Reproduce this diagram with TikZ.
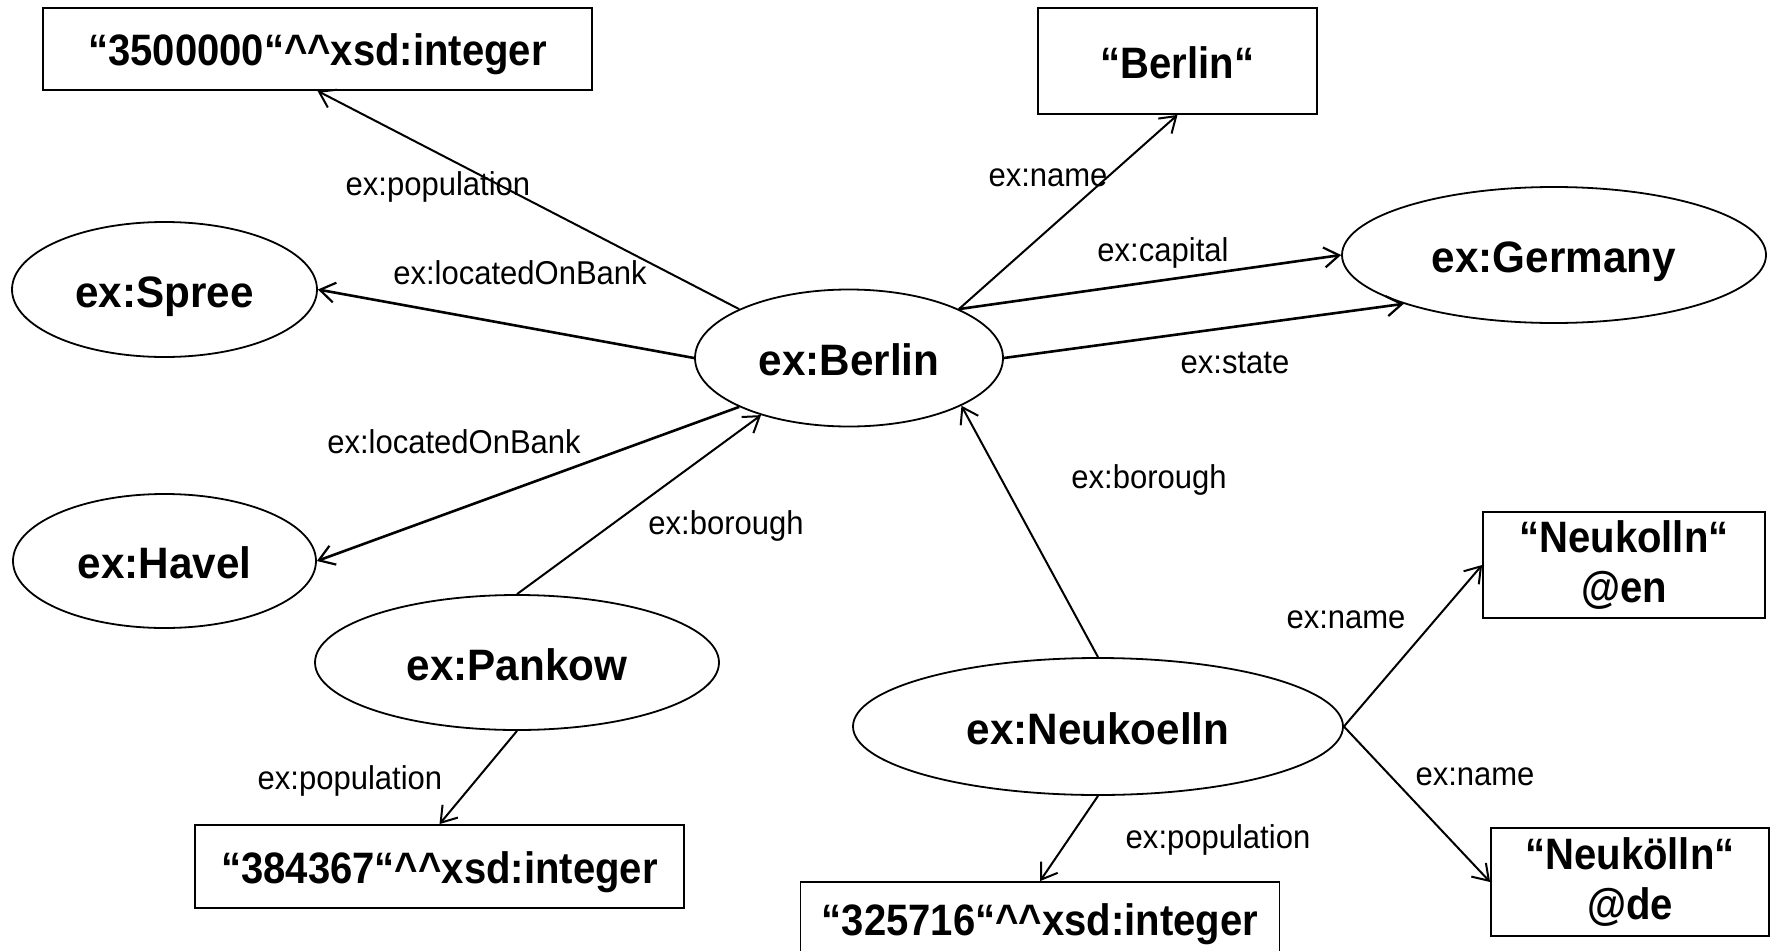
\documentclass[tikz,border=0pt]{standalone}
\usepackage{fontspec}
\setmainfont{Liberation Sans}[FakeStretch=0.91]
\newfontfamily\resfont{Liberation Sans}[FakeStretch=0.96]
\newfontfamily\lblfont{Liberation Sans}[FakeStretch=0.94]
\usetikzlibrary{shapes.geometric,arrows.meta}
\begin{document}
\begin{tikzpicture}[x=1pt,y=-1pt,
  res/.style={ellipse,draw,line width=1.8pt,inner sep=0pt,text height=35pt,text depth=0pt,font=\resfont\fontsize{44}{47}\selectfont\bfseries},
  lit/.style={rectangle,draw,line width=1.8pt,inner sep=0pt,align=center,font=\fontsize{44}{50}\selectfont\bfseries},
  litone/.style={lit,text height=34pt,text depth=0pt},
  lbl/.style={font=\lblfont\fontsize{33}{38}\selectfont,inner sep=0pt},
  rel/.style={line width=2pt,-{Straight Barb[length=15pt,width=20pt,line width=2pt]}},
  relT/.style={line width=2.6pt,-{Straight Barb[length=15pt,width=20pt,line width=2.2pt]}},
  ]
\clip (0,0) rectangle (1771,950);
\fill[white] (0,0) rectangle (1771,950);

% literal boxes
\node[litone,minimum width=549pt,minimum height=82pt] (pop) at (317.5,49) {“3500000“\textasciicircum\textasciicircum xsd:integer};
\node[litone,minimum width=279pt,minimum height=106pt] (bname) at (1177.5,61) {“Berlin“};
\node[litone,minimum width=489pt,minimum height=83pt] (b384) at (439.5,866.5) {“384367“\textasciicircum\textasciicircum xsd:integer};
\node[litone,minimum width=479pt,minimum height=73pt] (b325) at (1040,918.5) {“325716“\textasciicircum\textasciicircum xsd:integer};
\node[lit,minimum width=282pt,minimum height=106pt] (en) at (1624,565) {“Neukolln“\\@en};
\node[lit,minimum width=278pt,minimum height=108pt] (de) at (1630,882) {“Neukölln“\\@de};

% resources
\node[res,minimum width=305pt,minimum height=135pt] (spree) at (164.5,289.5) {ex:Spree};
\node[res,minimum width=308pt,minimum height=137pt] (berlin) at (849,358) {ex:Berlin};
\node[res,minimum width=424pt,minimum height=136pt] (germany) at (1554,255) {ex:Germany};
\node[res,minimum width=303pt,minimum height=134pt] (havel) at (164.5,561) {ex:Havel};
\node[res,minimum width=404pt,minimum height=135pt] (pankow) at (517,662.5) {ex:Pankow};
\node[res,minimum width=490pt,minimum height=137pt] (neuk) at (1098,726.5) {ex:Neukoelln};

% connectors
\draw[rel] (berlin.156.6) -- (pop.south);
\draw[relT] (berlin.180) -- (spree.east);
\draw[relT] (berlin.204) -- (havel.east);
\draw[rel] (pankow.north) -- (berlin.213);
\draw[rel] (berlin.24) -- (bname.south);
\draw[relT] (berlin.24) -- (germany.west);
\draw[relT] (berlin.0) -- (germany.198);
\draw[rel] (neuk.north) -- (berlin.337);
\draw[rel] (neuk.east) -- (en.west);
\draw[rel] (neuk.east) -- (de.west);
\draw[rel] (neuk.south) -- (b325.north);
\draw[rel] (pankow.south) -- (b384.north);

% labels
\node[lbl] (l1) at (438,187) {ex:population};
\node[lbl] (l2) at (520,273) {ex:locatedOnBank};
\node[lbl] (l3) at (454,442) {ex:locatedOnBank};
\node[lbl] (l4) at (726,526) {ex:borough};
\node[lbl] (l5) at (1048,178) {ex:name};
\node[lbl] (l6) at (1163,253) {ex:capital};
\node[lbl] (l7) at (1235,363) {ex:state};
\node[lbl] (l8) at (1149,480) {ex:borough};
\node[lbl] (l9) at (1346,620) {ex:name};
\node[lbl] (l10) at (1475,777) {ex:name};
\node[lbl] (l11) at (1218,840) {ex:population};
\node[lbl] (l12) at (350,781) {ex:population};
\end{tikzpicture}
\end{document}
